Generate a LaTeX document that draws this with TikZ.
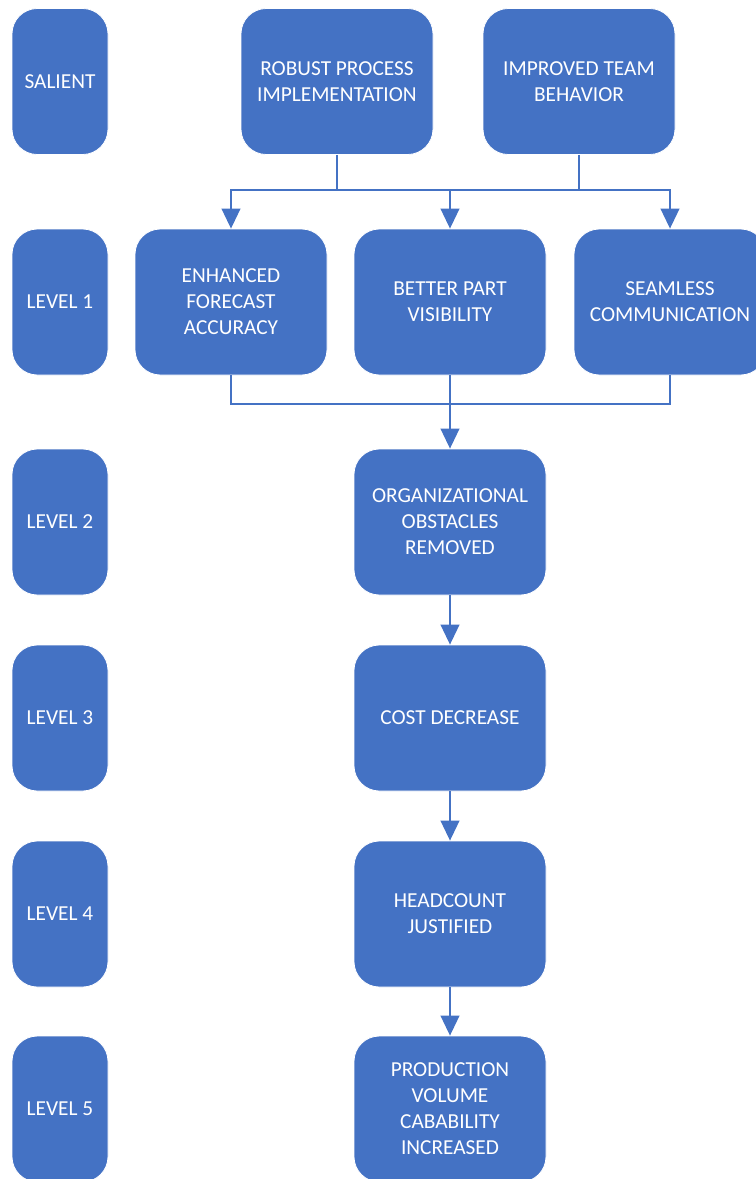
\documentclass[tikz,border=0pt]{standalone}
\usepackage{fontspec}
\setmainfont{Carlito}
\usepackage{tikz}
\usetikzlibrary{arrows.meta}
\definecolor{boxblue}{HTML}{4472C4}

\begin{document}
\begin{tikzpicture}[x=0.75pt,y=-0.75pt,
  link/.style={draw=boxblue,line width=1.5pt},
  arr/.style={link,-{Triangle[width=14pt,length=15pt]}}]
\useasboundingbox (0,0) rectangle (756,1179);
\begin{scope}[every node/.style={rectangle,rounded corners=19pt,fill=boxblue,draw=white,line width=0.6pt,
  text=white,align=center,inner sep=2pt,minimum height=109.5pt,
  font=\fontsize{16}{19.5}\selectfont}]
% levels on the left
\node[minimum width=72pt] (s0) at (60,81.5) {SALIENT};
\node[minimum width=72pt] (s1) at (60,302) {LEVEL 1};
\node[minimum width=72pt] (s2) at (60,522) {LEVEL 2};
\node[minimum width=72pt] (s3) at (60,718) {LEVEL 3};
\node[minimum width=72pt] (s4) at (60,914) {LEVEL 4};
\node[minimum width=72pt] (s5) at (60,1109) {LEVEL 5};

\node[minimum width=144pt] (1) at (337,81.5) {ROBUST PROCESS\\IMPLEMENTATION};
\node[minimum width=144pt] (2) at (579,81.5) {IMPROVED TEAM\\BEHAVIOR};

\node[minimum width=144pt] (4) at (231,302) {ENHANCED\\FORECAST\\ACCURACY};
\node[minimum width=144pt] (5) at (450,302) {BETTER PART\\VISIBILITY};
\node[minimum width=144pt] (6) at (670,302) {SEAMLESS\\COMMUNICATION};

\node[minimum width=144pt] (7) at (450,522) {ORGANIZATIONAL\\OBSTACLES\\REMOVED};
\node[minimum width=144pt] (8) at (450,718) {COST DECREASE};
\node[minimum width=144pt] (9) at (450,914) {HEADCOUNT\\JUSTIFIED};
\node[minimum width=144pt] (10) at (450,1109) {PRODUCTION\\VOLUME\\CABABILITY\\INCREASED};
\end{scope}

\coordinate (ja) at (450,190);
\coordinate (jb) at (450,404);

\draw[link] (1.south) |- (ja);
\draw[link] (2.south) |- (ja);
\draw[arr] (ja) -| (4.north);
\draw[arr] (ja) -- (5.north);
\draw[arr] (ja) -| (6.north);

\draw[link] (4.south) |- (jb);
\draw[link] (6.south) |- (jb);
\draw[arr] (5.south) -- (7.north);

\draw[arr] (7) -- (8);
\draw[arr] (8) -- (9);
\draw[arr] (9) -- (10);
\end{tikzpicture}
\end{document}
